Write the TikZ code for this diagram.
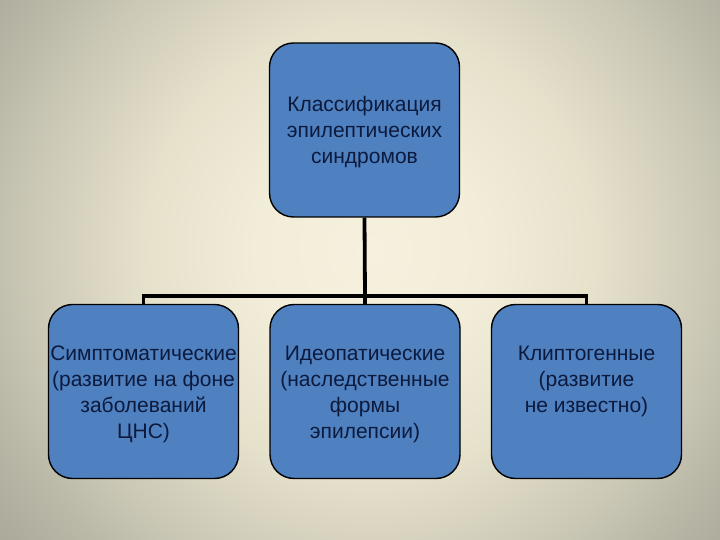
\documentclass[tikz,border=0pt]{standalone}
\usepackage{fontspec}
\setmainfont{Liberation Sans}
\definecolor{boxblue}{HTML}{4F80BF}
\definecolor{txtnavy}{HTML}{0C1A3E}
\definecolor{bgA}{HTML}{F5F1DE}
\definecolor{bgB}{HTML}{F2EDD8}
\definecolor{bgC}{HTML}{E6E1CB}
\definecolor{bgD}{HTML}{CBC8B6}
\definecolor{bgE}{HTML}{BBB9A8}
\definecolor{bgF}{HTML}{9C9B8E}
\definecolor{bgG}{HTML}{8A8A82}
\pgfdeclareradialshading{bgshade}{\pgfpoint{0bp}{0bp}}{%
  color(0bp)=(bgA); color(5.7bp)=(bgB); color(11.3bp)=(bgC); color(17bp)=(bgD);
  color(19.8bp)=(bgE); color(26.9bp)=(bgF); color(32.5bp)=(bgG); color(50bp)=(bgG)}
\begin{document}
\begin{tikzpicture}[x=1pt,y=-1pt,
  box/.style={draw=black, line width=1.4pt, fill=boxblue, rounded corners=24pt,
    minimum width=190pt, minimum height=174pt, inner sep=0pt},
  label/.style={anchor=north, inner sep=0pt, align=center, text=txtnavy,
    font=\fontsize{21}{26}\selectfont},
  conn/.style={draw=black, line width=3.8pt}]
\useasboundingbox (0,0) rectangle (720,540);
\begin{scope}
\clip (0,0) rectangle (720,540);
\shade[shading=bgshade] (-130,-250) rectangle (870,750);
\end{scope}
\node[box] (top) at (364.5,130) {};
\node[box] (b1) at (143.5,391.5) {};
\node[box] (b2) at (365,391.5) {};
\node[box] (b3) at (586.5,391.5) {};
\node[label] (ttop) at (364.5,96) {Классификация\\эпилептических\\синдромов};
\node[label] (t1) at (143.5,346) {Симптоматические\\(развитие на фоне\\заболеваний\\ЦНС)};
\node[label] (t2) at (365,346) {Идеопатические\\(наследственные\\формы\\эпилепсии)};
\node[label] (t3) at (586.5,346) {Клиптогенные\\(развитие\\не известно)};
\coordinate (bus) at (365,296);
\draw[conn] (top.south) -- (bus);
\draw[conn] (b1.north) |- (bus) -| (b3.north);
\draw[conn] (bus) -- (b2.north);
\end{tikzpicture}
\end{document}
